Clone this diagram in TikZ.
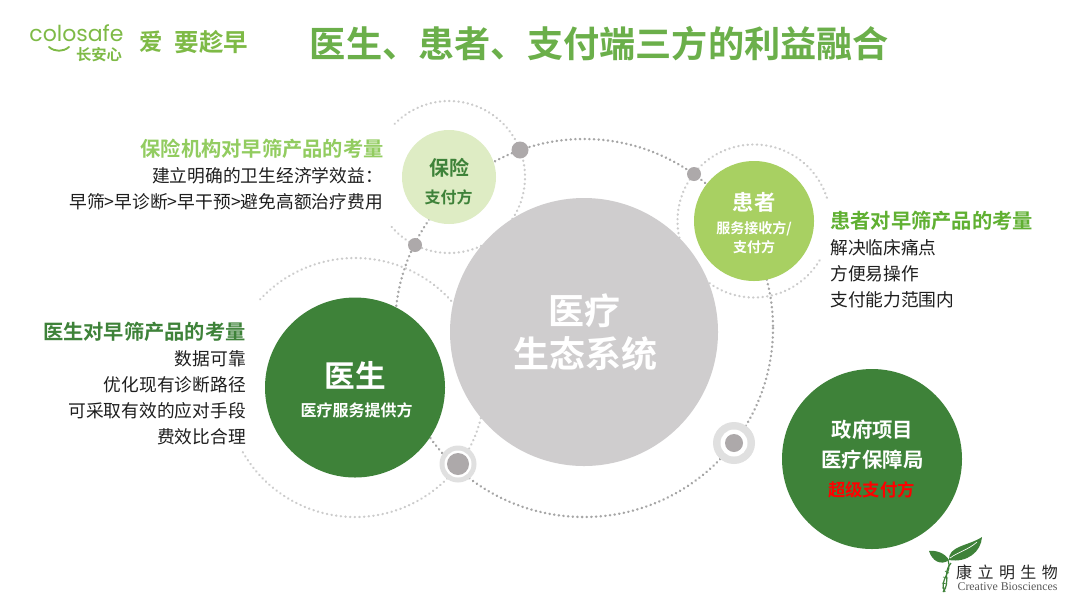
\documentclass[tikz,border=0pt]{standalone}
\usepackage{fontspec}
\setmainfont{Noto Sans CJK SC}
\newfontfamily\boldcjk{Noto Sans CJK SC Bold}
\newfontfamily\logolatin{Poppins}
\newfontfamily\logoserif{Liberation Serif}
\definecolor{titlegreen}{RGB}{107,175,74}
\definecolor{darkgreen}{RGB}{62,130,57}
\definecolor{midgreen}{RGB}{168,208,98}
\definecolor{palegreen}{RGB}{222,236,196}
\definecolor{limegreen}{RGB}{146,204,96}
\definecolor{brightgreen}{RGB}{96,176,50}
\definecolor{logogreen}{RGB}{126,186,70}
\definecolor{hubgray}{RGB}{207,205,206}
\definecolor{dotgray}{RGB}{173,169,170}
\definecolor{halogray}{RGB}{224,224,224}
\definecolor{bodyblack}{RGB}{30,30,30}
\tikzset{
  disc/.style={circle,draw=none,inner sep=0pt,minimum size=#1},
  biglabel/.style={text=white,font=\boldcjk\fontsize{#1}{#1}\selectfont,inner sep=0pt},
  headleft/.style={font=\boldcjk\fontsize{15.2}{15.2}\selectfont,inner sep=0pt},
  bodyline/.style={text=bodyblack,font=\fontsize{13.3}{13.3}\selectfont,inner sep=0pt},
  ringdots/.style={draw=black!20,line width=1.8pt,line cap=round,dash pattern=on 0.2pt off 3.3pt},
  hubdots/.style={draw=black!35,line width=1.9pt,line cap=round,dash pattern=on 0.2pt off 3.3pt},
  leaf/.style={fill=darkgreen,draw=none}
}
\begin{document}
\begin{tikzpicture}[x=0.75pt,y=0.75pt,yscale=-1,xscale=1]
	\useasboundingbox [fill=white] (0,0) rectangle (1080,608);

	% Anchors
	\coordinate (hubc) at (584,328);
	\coordinate (insurec) at (449,177);
	\coordinate (patientc) at (754,221);
	\coordinate (doctorc) at (355,387.5);

	% Dotted rings
	\draw [hubdots] (hubc) circle (189);
	\draw [ringdots] (insurec) ++(139:76) arc (139:-138:76);
	\draw [ringdots] (patientc) ++(31:76.5) arc (31:343:76.5);
	\draw [ringdots] (doctorc) ++(150:129.5) arc (150:-137:129.5);

	% Circles
	\node (hub) [disc=268*0.75pt,fill=hubgray] at (584,332) {};
	\node (insure) [disc=94*0.75pt,fill=palegreen] at (insurec) {};
	\node (patient) [disc=120*0.75pt,fill=midgreen] at (patientc) {};
	\node (doctor) [disc=180*0.75pt,fill=darkgreen] at (doctorc) {};
	\node (gov) [disc=180*0.75pt,fill=darkgreen] at (872,459) {};

	% Ring markers
	\node (markl) [disc=37*0.75pt,fill=halogray] at (458,464) {};
	\node (marklw) [disc=27*0.75pt,fill=white] at (markl) {};
	\node (markld) [disc=22*0.75pt,fill=dotgray] at (markl) {};
	\node (markr) [disc=42*0.75pt,fill=halogray] at (734,443) {};
	\node (markrw) [disc=27*0.75pt,fill=white] at (markr) {};
	\node (markrd) [disc=18*0.75pt,fill=dotgray] at (markr) {};
	\node (dota) [disc=17*0.75pt,fill=dotgray] at (520,150) {};
	\node (dotb) [disc=14*0.75pt,fill=dotgray] at (694,174) {};
	\node (dotc) [disc=14*0.75pt,fill=dotgray] at (415,245) {};

	% Title
	\node (title) [font=\boldcjk\fontsize{27.15}{27.15}\selectfont,text=titlegreen,inner sep=0pt] at (599.5,44) {医生、患者、支付端三方的利益融合};

	% Circle labels
	\node (hubone) [biglabel=27] at (584.5,311) {医疗};
	\node (hubtwo) [biglabel=27] at (585,354) {生态系统};
	\node (insureone) [biglabel=15,text=darkgreen] at (449,168) {保险};
	\node (insuretwo) [biglabel=12,text=darkgreen] at (448.5,197) {支付方};
	\node (patientone) [biglabel=16] at (754,202) {患者};
	\node (patienttwo) [biglabel=10.5] at (754,229) {服务接收方/};
	\node (patientthree) [biglabel=10.5] at (754,247) {支付方};
	\node (doctorone) [biglabel=23] at (355.5,375) {医生};
	\node (doctortwo) [biglabel=12] at (356.5,410) {医疗服务提供方};
	\node (govone) [biglabel=15.3] at (872.5,430) {政府项目};
	\node (govtwo) [biglabel=15.3] at (872.5,460) {医疗保障局};
	\node (govthree) [biglabel=13,text=red] at (871.5,490) {超级支付方};

	% Insurer text
	\node (insurehead) [headleft,text=limegreen,anchor=east] at (384,149) {保险机构对早筛产品的考量};
	\node (insureline) [bodyline,anchor=east] at (383,176) {建立明确的卫生经济学效益：};
	\node (insurepath) [bodyline,anchor=east] at (383,202) {早筛>早诊断>早干预>避免高额治疗费用};

	% Patient text
	\node (patienthead) [headleft,text=brightgreen,anchor=west] at (830,221) {患者对早筛产品的考量};
	\node (patientb) [bodyline,anchor=west] at (830,248) {解决临床痛点};
	\node (patientd) [bodyline,anchor=west] at (830,274) {方便易操作};
	\node (patiente) [bodyline,anchor=west] at (830,300) {支付能力范围内};

	% Doctor text
	\node (doctorhead) [headleft,text=darkgreen,anchor=east] at (246,332) {医生对早筛产品的考量};
	\node (doctorb) [bodyline,anchor=east] at (246,359) {数据可靠};
	\node (doctord) [bodyline,anchor=east] at (246,385) {优化现有诊断路径};
	\node (doctore) [bodyline,anchor=east] at (246,411) {可采取有效的应对手段};
	\node (doctorf) [bodyline,anchor=east] at (246,437) {费效比合理};

	% Top logo
	\node (logoname) [font=\logolatin\fontsize{16.5}{16.5}\selectfont,text=logogreen,inner sep=0pt] at (76.5,33.5) {colosafe};
	\node (logocn) [font=\boldcjk\fontsize{11.5}{11.5}\selectfont,text=logogreen,inner sep=0pt] at (99,55) {长安心};
	\node (sloganone) [font=\boldcjk\fontsize{17.5}{17.5}\selectfont,text=logogreen,inner sep=0pt] at (151.5,42) {爱};
	\node (slogantwo) [font=\boldcjk\fontsize{18.4}{18.4}\selectfont,text=logogreen,inner sep=0pt] at (211.5,42) {要趁早};
	\draw [logogreen,line width=1.4pt,line cap=round] (49,47) .. controls (55,52) and (63,52) .. (69,47);

	% Bottom logo
	\node (firmcn) [font=\fontsize{12}{12}\selectfont,text=black!85,inner sep=0pt] at (1007,572) {康\hspace{4.1pt}立\hspace{4.1pt}明\hspace{4.1pt}生\hspace{4.1pt}物};
	\node (firmen) [font=\logoserif\fontsize{8.9}{8.9}\selectfont,text=black!65,inner sep=0pt] at (1007.5,587) {Creative Biosciences};
	\fill [leaf] (949,560) .. controls (948,546) and (968,546) .. (982,537) .. controls (981,552) and (967,563) .. (949,560) -- cycle;
	\fill [leaf] (929,551) .. controls (936,550) and (945,553) .. (949,560) .. controls (941,566) and (932,561) .. (929,551) -- cycle;
	\draw [white,line width=0.5pt] (950,558) .. controls (958,552) and (968,550) .. (977,542);
	\draw [darkgreen,line width=0.9pt] (948,560) .. controls (953,573) and (938,580) .. (945,592);
	\draw [darkgreen,line width=0.9pt] (951,563) .. controls (942,573) and (951,582) .. (943,592);
	\draw [darkgreen,line width=0.5pt] (945,571) -- (949,573) (943,577) -- (948,578) (942,583) -- (947,584) (942,588) -- (946,588);
\end{tikzpicture}
\end{document}
